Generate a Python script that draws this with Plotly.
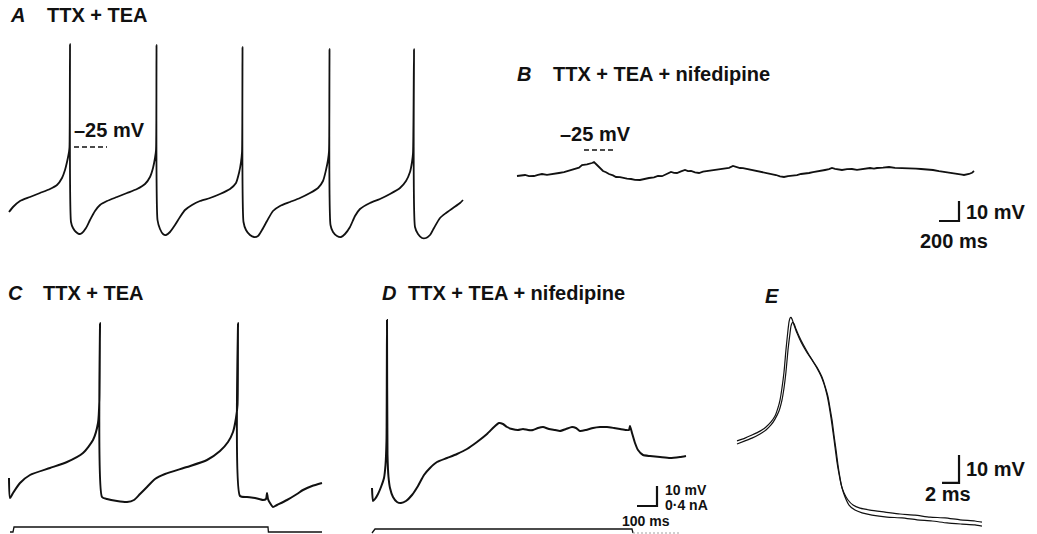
import plotly.graph_objects as go

W, H = 1037, 534
INK = "#111111"
FONT = "Liberation Sans, Arial, Helvetica, sans-serif"

# ---------------- recordings (time in ms, membrane potential in mV, current in nA) ----------------
# A: spontaneous firing in TTX + TEA
a_t = [0, 40, 110, 210, 310, 410, 480, 530, 560, 580, 600, 605, 610, 620, 640, 670, 700, 730, 770, 810,
       860, 910, 980, 1080, 1180, 1280, 1360, 1410, 1440, 1460, 1470, 1475, 1485, 1510, 1540, 1570, 1610,
       1660, 1710, 1760, 1830, 1910, 2010, 2110, 2210, 2270, 2300, 2320, 2330, 2335, 2345, 2370, 2410,
       2450, 2490, 2530, 2580, 2640, 2710, 2810, 2910, 3010, 3090, 3140, 3170, 3190, 3200, 3205, 3215,
       3240, 3280, 3320, 3360, 3410, 3460, 3510, 3610, 3710, 3810, 3910, 3970, 4010, 4030, 4040, 4050,
       4060, 4090, 4130, 4170, 4210, 4250, 4310, 4370, 4440, 4510, 4540]
a_v = [-57.5, -55, -52, -50, -48, -46, -44, -40.5, -36.5, -32.5, -27.5, -25, 26.5, -62.5, -65.5, -67.5,
       -68.5, -68, -65.5, -61.5, -57, -54, -52, -50, -48, -46, -43.5, -40, -35.5, -30.5, -26.5, 26,
       -61.5, -66, -68.5, -69, -67.5, -64, -60, -56.5, -54, -52, -50.5, -48.5, -46, -43, -38, -32.5,
       -27.5, 25, -62.5, -66.5, -69, -70, -69.5, -66.5, -62, -57, -54.5, -52.5, -50.5, -48, -45.5, -42,
       -36.5, -31.5, -27, 24, -64, -67.5, -69.5, -70, -68.5, -65, -59.5, -56, -53, -51, -48.5, -45.5,
       -42, -37.5, -32.5, -28, 24, -65, -68.5, -70.5, -70.5, -69, -65.5, -60.5, -58, -55.5, -53, -51.5]

# B: same cell after nifedipine
b_t = [0, 40, 80, 120, 170, 210, 250, 300, 340, 380, 420, 470, 510, 550, 580, 620, 650, 700, 750, 770,
       800, 830, 860, 890, 920, 960, 990, 1030, 1060, 1100, 1140, 1180, 1230, 1270, 1320, 1370, 1410,
       1450, 1480, 1510, 1540, 1570, 1600, 1640, 1680, 1710, 1740, 1780, 1820, 1860, 1900, 1950, 1990,
       2030, 2080, 2120, 2160, 2190, 2230, 2260, 2300, 2350, 2400, 2450, 2500, 2540, 2590, 2630, 2670,
       2710, 2750, 2800, 2840, 2880, 2920, 2960, 3010, 3040, 3080, 3120, 3150, 3180, 3200, 3230, 3250,
       3300, 3350, 3400, 3460, 3500, 3530, 3570, 3600, 3660, 3720, 3780, 3840, 3890, 3940, 3990, 4040,
       4100, 4160, 4220, 4280, 4320, 4350, 4390, 4420, 4450, 4470, 4500, 4520, 4550, 4570]
b_v = [-38, -37.7, -37.5, -38.1, -38, -37.4, -37, -37.4, -37, -36.6, -36.5, -36.1, -35.5, -35.2, -34.5,
       -33.8, -32.5, -32.2, -31.5, -31, -32.5, -33.8, -35.5, -36.1, -37, -37.7, -38.5, -38.6, -39,
       -39.3, -39.5, -39.9, -40, -39.4, -39, -38.7, -38, -38.1, -37.5, -36.9, -36, -36.4, -36.5, -35.7,
       -35, -35.6, -35.5, -36.2, -36.5, -35.8, -35.5, -35.4, -35, -34.9, -34.5, -33.9, -33, -33.5, -34,
       -34.1, -34.5, -35.1, -35.5, -36.1, -36.5, -37.2, -37.5, -38.2, -38.5, -38.1, -38, -37.6, -37,
       -36.9, -36.5, -36.1, -35.5, -35.4, -35, -34.6, -34, -34.4, -34.5, -34.8, -35, -34.6, -34.5,
       -34.9, -34.5, -34.3, -34, -34.3, -34, -33.8, -33.5, -33.9, -34, -33.8, -34, -34.3, -34.5, -34.6,
       -35, -35.6, -36, -36.1, -36.5, -36.6, -37, -37.3, -37.5, -37.4, -37, -36.4, -35.5]

# C: response to a depolarising current step (TTX + TEA)
c_t = [0, 5, 20, 55, 105, 205, 290, 370, 420, 445, 452, 455, 465, 490, 540, 590, 625, 655, 690, 730,
       780, 890, 990, 1055, 1095, 1120, 1135, 1142.5, 1145, 1155, 1190, 1230, 1270, 1285, 1290, 1295,
       1305, 1320, 1340, 1390, 1440, 1470, 1515, 1565]
c_v = [-55.5, -65.5, -63, -58, -54, -50.5, -47.5, -43, -36.5, -28, -16.5, 22, -65, -66, -67, -67.5,
       -66.5, -63.5, -60, -56, -53.5, -50, -46.5, -42, -37.5, -32.5, -25.5, -19, 22, -64.5, -65, -65.5,
       -66.5, -66, -63, -66, -68, -70, -69, -66.5, -63.5, -61.5, -59.5, -58]
c_it = [5, 20, 25, 1295, 1297, 1565]
c_i = [0, 0, 0.1, 0.1, 0, 0]

# D: same protocol after nifedipine
d_t = [0, 5, 15, 30, 45, 60, 67.5, 72.5, 75, 77.5, 82.5, 90, 105, 125, 145, 170, 200, 230, 260, 290,
       325, 375, 425, 475, 525, 575, 610, 635, 655, 675, 700, 730, 755, 780, 805, 830, 855, 885, 915,
       940, 970, 1000, 1020, 1040, 1070, 1105, 1140, 1175, 1210, 1240, 1270, 1285, 1290, 1300, 1315,
       1330, 1355, 1390, 1440, 1490, 1540, 1570]
d_v = [-60.5, -67, -66, -63.5, -60, -55.5, -49, -36.5, 23.5, -44, -55, -60.5, -65, -67.5, -68, -67,
       -64, -59.5, -54, -50.5, -47.5, -45.5, -43.5, -41, -37.5, -33.5, -30, -28, -28.5, -30, -31,
       -31.5, -31, -31.5, -31.5, -30.5, -30, -31, -31.5, -32, -31, -30, -30.5, -32, -31.5, -30.5, -30,
       -30, -30.5, -31, -31.5, -31.5, -29.5, -33, -38, -41.5, -44, -44.5, -45, -45.5, -45, -44.5]
d_it = [0, 15, 1300, 1305]
d_i = [0, 0.08, 0.08, 0]
d_rest_t = [1305, 1540]
d_rest_i = [0, 0]

# E: superimposed action potentials on a fast time base
e1_t = [0, 0.94, 1.76, 2.71, 3.41, 4.0, 4.47, 4.82, 5.06, 5.29, 5.53, 5.76, 6.0, 6.12, 6.24, 6.35, 6.47,
        6.71, 7.06, 7.53, 8.12, 8.82, 9.41, 9.88, 10.24, 10.59, 10.82, 11.06, 11.29, 11.53, 11.76,
        12.0, 12.24, 12.59, 13.06, 13.65, 14.47, 15.65, 17.41, 19.18, 20.94, 22.71, 24.47, 26.24,
        28.0, 28.82]
e1_v = [-28.9, -27.9, -26.8, -25.4, -23.9, -22.1, -20.0, -17.1, -14.3, -10.0, -4.3, 3.6, 10.7, 13.6,
        15.0, 15.2, 14.6, 12.5, 9.6, 6.4, 3.2, 0.0, -2.9, -5.7, -8.6, -12.5, -16.1, -20.7, -25.7,
        -31.1, -36.4, -40.7, -44.3, -47.5, -50.0, -51.8, -52.9, -53.6, -54.3, -55.0, -55.4, -56.1,
        -56.4, -57.1, -57.5, -57.9]
e2_t = [0, 0.94, 1.76, 2.71, 3.41, 4.0, 4.47, 4.94, 5.29, 5.53, 5.76, 6.0, 6.24, 6.35, 6.47, 6.59,
        6.71, 6.94, 7.29, 7.76, 8.35, 8.94, 9.53, 10.0, 10.35, 10.71, 10.94, 11.18, 11.41, 11.65,
        11.88, 12.12, 12.35, 12.71, 13.18, 13.88, 14.71, 15.88, 17.65, 19.41, 21.18, 22.94, 24.71,
        26.47, 28.0, 28.82]
e2_v = [-30.0, -28.9, -27.9, -26.4, -25.0, -23.2, -21.1, -18.2, -14.3, -10.0, -4.3, 3.6, 9.6, 12.1,
        13.2, 13.4, 12.9, 11.1, 8.6, 5.7, 2.5, -0.4, -3.2, -6.1, -9.3, -13.2, -17.1, -21.4, -26.8,
        -32.1, -37.5, -42.1, -45.7, -48.9, -51.8, -53.6, -54.6, -55.4, -56.1, -56.4, -57.1, -57.5,
        -58.2, -58.6, -58.9, -59.3]

# ---------------- panel geometry: pixel anchor + pixels per unit ----------------
def xr(px0, ppu):
    return [-px0 / ppu, (W - px0) / ppu]


def yr(py_ref, v_ref, ppu):
    return [v_ref - (H - py_ref) / ppu, v_ref + py_ref / ppu]


axes = {
    "xaxis": xr(9, 0.1),        # A time
    "yaxis": yr(147, -25, 2.0),   # A voltage
    "xaxis2": xr(517, 0.1),     # B time
    "yaxis2": yr(150, -25, 2.0),  # B voltage
    "xaxis3": xr(9, 0.2),       # C time
    "yaxis3": yr(497, -65, 2.0),  # C voltage
    "yaxis4": yr(532, 0, 50.0),   # C current
    "xaxis4": xr(372, 0.2),     # D time
    "yaxis5": yr(497, -65, 2.0),  # D voltage
    "yaxis6": yr(533, 0, 50.0),   # D current
    "xaxis5": xr(737, 8.5),     # E time
    "yaxis7": yr(318, 15, 2.8),   # E voltage
}

fig = go.Figure()


def trace(x, y, xa, ya, width, color=INK, dash=None, smooth=None):
    line = dict(color=color, width=width, dash=dash)
    if smooth:
        line.update(shape="spline", smoothing=smooth)
    fig.add_trace(go.Scatter(x=x, y=y, xaxis=xa, yaxis=ya, mode="lines", line=line,
                             hoverinfo="skip", showlegend=False))


trace(a_t, a_v, "x", "y", 1.8, smooth=0.6)
trace(b_t, b_v, "x2", "y2", 1.8)
trace(c_t, c_v, "x3", "y3", 2.0, smooth=0.6)
trace(c_it, c_i, "x3", "y4", 1.3)
trace(d_t, d_v, "x4", "y5", 2.0, smooth=0.5)
trace(d_it, d_i, "x4", "y6", 1.3)
trace(d_rest_t, d_rest_i, "x4", "y6", 1.0, color="#a0a0a0", dash="2px,2px")
trace(e1_t, e1_v, "x5", "y7", 1.2, smooth=0.6)
trace(e2_t, e2_v, "x5", "y7", 1.2, smooth=0.6)

layout_axes = {}
for name, rng in axes.items():
    ax = dict(range=rng, domain=[0, 1], visible=False, showgrid=False, zeroline=False, fixedrange=True)
    if name not in ("xaxis", "yaxis"):
        ax["overlaying"] = "x" if name.startswith("x") else "y"
    layout_axes[name] = ax

shapes = [
    # -25 mV reference marks
    dict(type="line", xref="x", yref="y", x0=650, x1=980, y0=-25, y1=-25,
         line=dict(color=INK, width=1.5, dash="5px,3px")),
    dict(type="line", xref="x2", yref="y2", x0=670, x1=990, y0=-25, y1=-25,
         line=dict(color=INK, width=1.5, dash="5px,3px")),
    # calibration bars
    dict(type="path", xref="x2", yref="y2", path="M 4220,-60.5 L 4420,-60.5 L 4420,-50.5",
         line=dict(color=INK, width=2.2)),
    dict(type="path", xref="x4", yref="y5", path="M 1325,-69.5 L 1425,-69.5 L 1425,-59.5",
         line=dict(color=INK, width=2.2)),
    dict(type="path", xref="x5", yref="y7", path="M 24.12,-43.9 L 26.12,-43.9 L 26.12,-33.9",
         line=dict(color=INK, width=2.2)),
]


def label(text, px, py, size=20):
    return dict(text=text, x=px / W, y=1 - py / H, xref="paper", yref="paper",
                xanchor="left", yanchor="middle", showarrow=False,
                font=dict(family=FONT, size=size, color=INK))


annotations = [
    label("<b><i>A</i></b>", 8, 15),
    label("<b>TTX + TEA</b>", 45, 15),
    label("<b>–25 mV</b>", 72, 130),
    label("<b><i>B</i></b>", 515, 74),
    label("<b>TTX + TEA + nifedipine</b>", 551, 74),
    label("<b>–25 mV</b>", 558, 134),
    label("<b>10 mV</b>", 964, 212),
    label("<b>200 ms</b>", 918, 241),
    label("<b><i>C</i></b>", 6, 293),
    label("<b>TTX + TEA</b>", 41, 293),
    label("<b><i>D</i></b>", 380, 293),
    label("<b>TTX + TEA + nifedipine</b>", 406, 293),
    label("<b><i>E</i></b>", 763, 296),
    label("<b>10 mV</b>", 663, 490, 14),
    label("<b>0·4 nA</b>", 663, 505, 14),
    label("<b>100 ms</b>", 620, 521, 14),
    label("<b>10 mV</b>", 964, 469),
    label("<b>2 ms</b>", 923, 494),
]

fig.update_layout(
    width=W, height=H, autosize=False,
    margin=dict(l=0, r=0, t=0, b=0, pad=0),
    paper_bgcolor="white", plot_bgcolor="rgba(0,0,0,0)",
    showlegend=False, shapes=shapes, annotations=annotations,
    **layout_axes,
)

fig.write_html("out.html", config={"displayModeBar": False, "staticPlot": True})
